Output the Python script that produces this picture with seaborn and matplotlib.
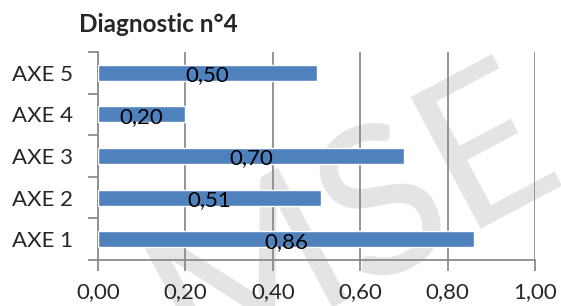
import matplotlib
matplotlib.use("Agg")
import pandas as pd
import matplotlib.pyplot as plt
import seaborn as sns
from matplotlib.ticker import FuncFormatter, FixedLocator

sns.set_style("white")
plt.rcParams["font.family"] = ["Lato", "DejaVu Sans"]

axes_labels = ["AXE 5", "AXE 4", "AXE 3", "AXE 2", "AXE 1"]
scores = [0.50, 0.20, 0.70, 0.51, 0.86]
titre = "Diagnostic n°4"

df = pd.DataFrame({"axe": axes_labels, "score": scores})

gris = "#8C8C8C"
bleu = "#4F81BD"

fig = plt.figure(figsize=(5.61, 3.06), dpi=100)
ax = fig.add_axes([98 / 561, 46 / 306, 437 / 561, 208 / 306])
ax.patch.set_alpha(0)

# filigrane en arrière-plan
fig.text(0.63, 0.28, "MSE", fontsize=150, color="#E4E4E4", rotation=28,
         ha="center", va="center", zorder=-5)

sns.barplot(data=df, y="axe", x="score", order=axes_labels, color=bleu,
            width=0.38, saturation=1, ax=ax, zorder=3)

for i, v in enumerate(scores):
    ax.text(v / 2, i + 0.06, f"{v:.2f}".replace(".", ","), ha="center",
            va="center", fontsize=16, color="black", zorder=4)

ax.set_xlim(0, 1)
ax.set_ylim(4.5, -0.5)
ax.set_xticks([0, 0.2, 0.4, 0.6, 0.8, 1.0])
ax.xaxis.set_major_formatter(FuncFormatter(lambda x, _: f"{x:.2f}".replace(".", ",")))
ax.grid(axis="x", color=gris, linewidth=1.3, zorder=0)
ax.set_axisbelow(True)

ax.yaxis.set_minor_locator(FixedLocator([-0.5, 0.5, 1.5, 2.5, 3.5, 4.5]))
ax.tick_params(axis="y", which="major", length=0, labelsize=16, pad=18)
ax.tick_params(axis="y", which="minor", length=7, width=1.3, color=gris, left=True)
ax.tick_params(axis="x", length=8, width=1.3, color=gris, labelsize=16, pad=8, bottom=True)

for s in ["top", "right"]:
    ax.spines[s].set_visible(False)
for s in ["left", "bottom"]:
    ax.spines[s].set_color(gris)
    ax.spines[s].set_linewidth(1.3)

ax.set_xlabel("")
ax.set_ylabel("")

fig.text(79 / 561, 1 - 24 / 306, titre, ha="left", va="center",
         fontsize=17.5, fontweight="bold")

fig.savefig("out.png", dpi=100)
